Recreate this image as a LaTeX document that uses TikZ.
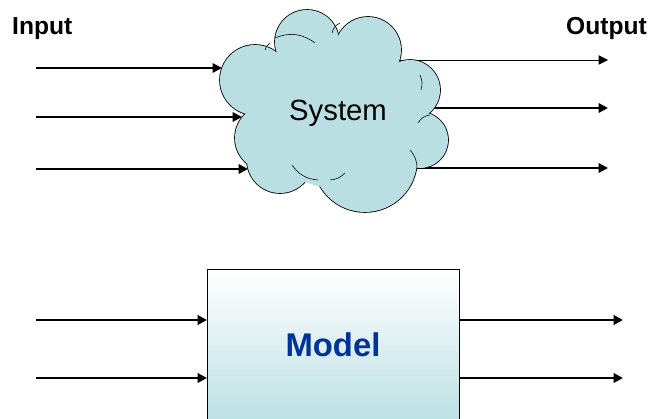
\documentclass[tikz,border=0pt]{standalone}
\usepackage{fontspec}
\setmainfont{Liberation Sans}
\usetikzlibrary{arrows.meta,positioning,calc}

\definecolor{cloudblue}{RGB}{186,223,227}
\definecolor{modelblue}{RGB}{0,51,153}

\begin{document}
\begin{tikzpicture}[x=0.03cm,y=0.03cm,>={Triangle[length=8pt,width=8pt]},
  arr/.style={->,line width=#1},
  label/.style={font=\bfseries\fontsize{21}{25}\selectfont,inner sep=0pt}]
  \useasboundingbox (0,0) rectangle (650,418);
  \clip (0,0) rectangle (650,418);
  % system outputs (start hidden under the cloud)
  \coordinate (so1) at (395,358); \coordinate (sf1) at (608,358);
  \coordinate (so2) at (420,310); \coordinate (sf2) at (608,310);
  \coordinate (so3) at (400,250); \coordinate (sf3) at (608,250);
  \draw[arr=0.8pt] (so1) -- (sf1);
  \draw[arr=1.8pt] (so2) -- (sf2);
  \draw[arr=2.4pt] (so3) -- (sf3);
  % cloud
  \def\puffs{255/338/35, 307/376/32, 368/368/33, 410/328/30, 420/278/28,
             365/258/52, 280/258/33, 268/280/33}
  \foreach \x/\y/\r in \puffs
    \draw[line width=1.4pt] (\x,\y) circle (\r);
  \foreach \x/\y/\r in \puffs
    \fill[cloudblue] (\x,\y) circle (\r);
  \fill[cloudblue] (335,305) circle (75);
  \foreach \xa/\ya/\xb/\yb/\b in {265/368/270/375/20, 275/380/315/375/30,
                                  332/385/340/395/25, 420/343/421/328/20,
                                  418/295/430/303/25, 410/268/417/250/20,
                                  292/253/318/238/-25, 330/238/345/245/-20}{
    \draw[line width=0.5pt] (\xa,\ya) to[bend left=\b] (\xb,\yb);
  }
  \node[font=\fontsize{25}{30}\selectfont] (sys) at (338,305) {System};
  % labels
  \node[label, anchor=base west] (inp) at (12,383) {Input};
  \node[label, anchor=base east] (outp) at (647,383) {Output};
  % system inputs
  \coordinate (si1) at (36,350);  \coordinate (se1) at (222,350);
  \coordinate (si2) at (36,301);  \coordinate (se2) at (242,301);
  \coordinate (si3) at (36,249);  \coordinate (se3) at (248,249);
  \draw[arr=1.6pt] (si1) -- (se1);
  \draw[arr=1.6pt] (si2) -- (se2);
  \draw[arr=2.4pt] (si3) -- (se3);
  % model
  \node[draw, line width=0.7pt, anchor=north west, minimum width=7.56cm,
    minimum height=4.65cm, top color=white, bottom color=cloudblue]
    (model) at (207,149) {};
  \node[font=\bfseries\fontsize{28}{34}\selectfont, text=modelblue,
    anchor=base] (mtext) at (333,62) {Model};
  \foreach \y/\n in {98/1,40/2}{
    \coordinate (mi\n) at (36,\y);
    \coordinate (mo\n) at (623,\y);
    \draw[arr=2.4pt] (mi\n) -- (mi\n -| model.west);
    \draw[arr=2.4pt] (mi\n -| model.east) -- (mo\n);
  }
\end{tikzpicture}
\end{document}
